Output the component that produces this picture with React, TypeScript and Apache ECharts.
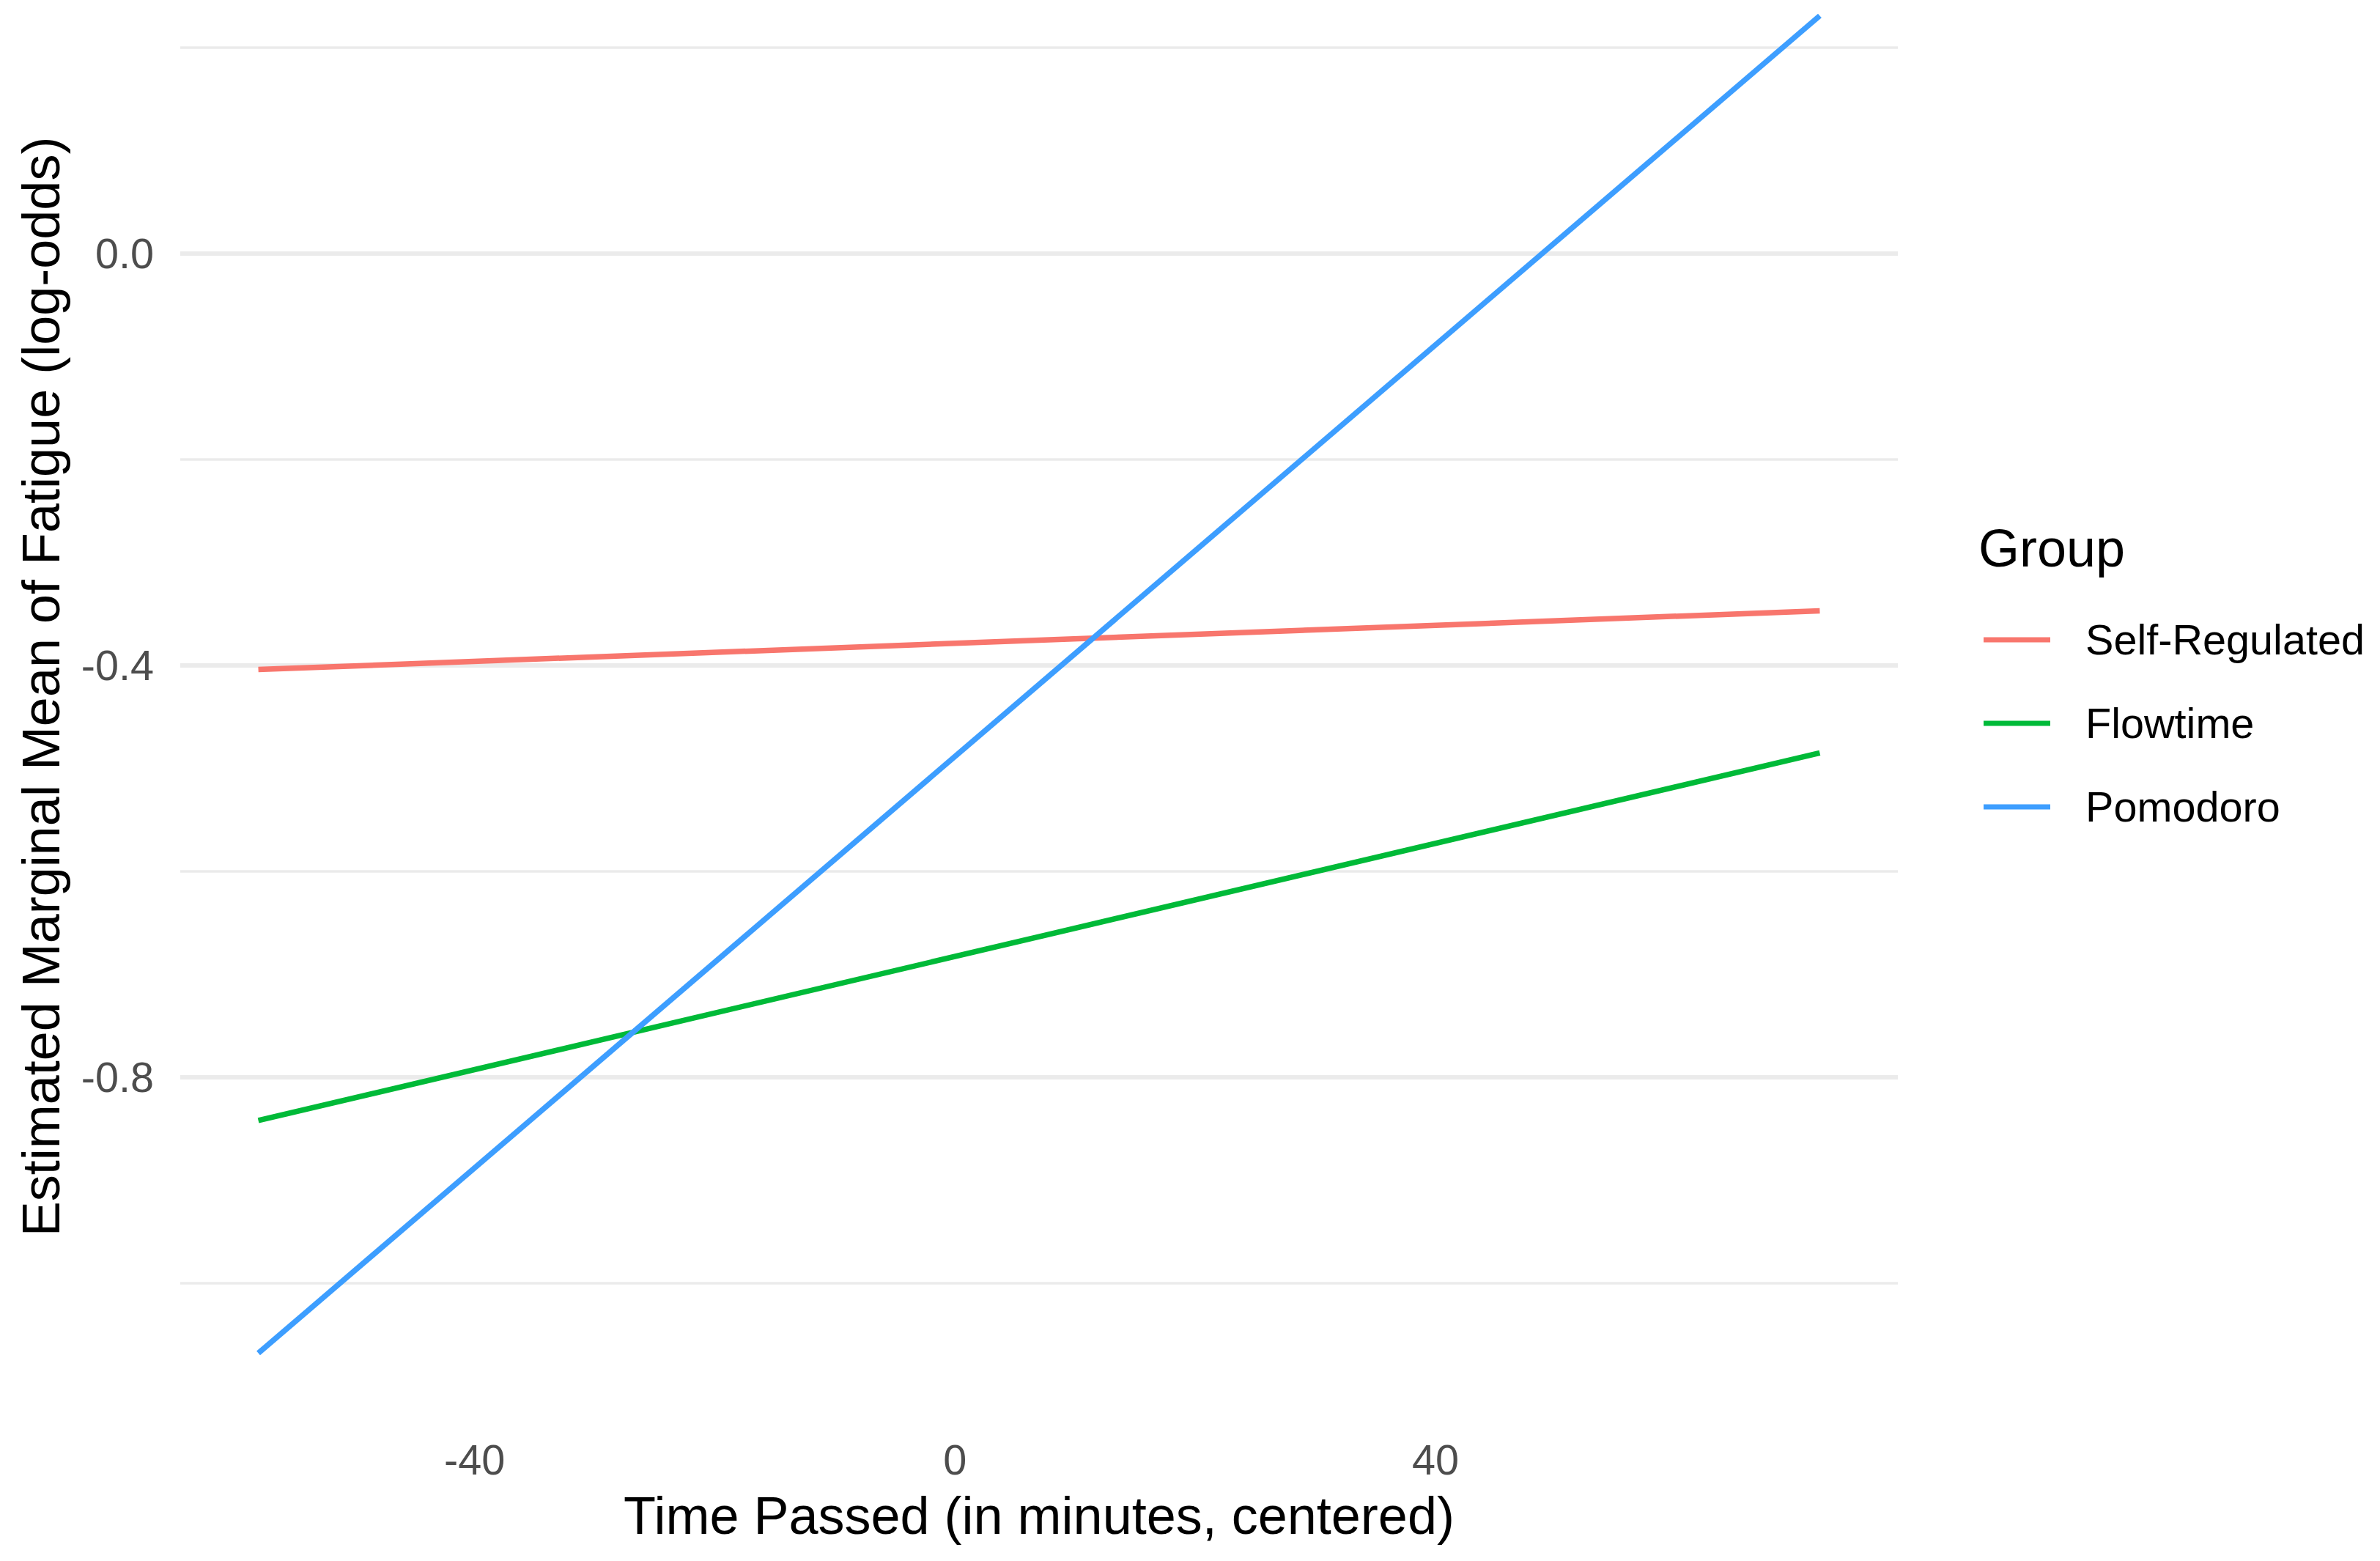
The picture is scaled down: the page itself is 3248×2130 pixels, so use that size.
import React, { useEffect, useRef } from "react";
import * as echarts from "echarts";

// ---- data ----
const timeX = [-58, 72];
const selfRegulated = [-0.404, -0.347];
const flowtime = [-0.842, -0.485];
const pomodoro = [-1.068, 0.231];
const groupNames = ["Self-Regulated", "Flowtime", "Pomodoro"];
const groupValues = [selfRegulated, flowtime, pomodoro];
const groupColors = ["#F8766D", "#00BA38", "#3D9EFF"];
const xTickLabels = [-40, 0, 40];
const yMajorTicks = [-0.8, -0.4, 0.0];
const yMinorTicks = [-1.0, -0.6, -0.2, 0.2];
const xRange = [-64.5, 78.5];
const yRange = [-1.1325, 0.2463];

const FONT = "'Liberation Sans', Arial, Helvetica, sans-serif";

export default function App() {
  const ref = useRef<HTMLDivElement>(null);

  useEffect(() => {
    if (!ref.current) return;
    const chart = echarts.init(ref.current, null, { renderer: "svg" });
    const option: any = {
      animation: false,
      backgroundColor: "#FFFFFF",
      textStyle: { fontFamily: FONT },
      grid: { left: 246, right: 658, top: 0, bottom: 193, containLabel: false },
      legend: {
        orient: "vertical",
        left: 2702,
        top: 838,
        itemWidth: 91,
        itemHeight: 7,
        itemGap: 54,
        icon: "rect",
        data: groupNames,
        textStyle: {
          fontSize: 57.6,
          color: "#000000",
          fontFamily: FONT,
          lineHeight: 60,
          padding: [0, 0, 0, 43],
        },
      },
      graphic: [
        {
          type: "text",
          x: 2700,
          y: 748,
          style: {
            text: "Group",
            fontSize: 72,
            fontFamily: FONT,
            fill: "#000000",
            verticalAlign: "middle",
            align: "left",
          },
        },
        {
          type: "text",
          x: 56,
          y: 937,
          rotation: Math.PI / 2,
          style: {
            text: "Estimated Marginal Mean of Fatigue (log-odds)",
            fontSize: 72,
            fontFamily: FONT,
            fill: "#000000",
            verticalAlign: "middle",
            align: "center",
          },
        },
      ],
      xAxis: {
        type: "value",
        min: xRange[0],
        max: xRange[1],
        name: "Time Passed (in minutes, centered)",
        nameLocation: "middle",
        nameGap: 95,
        nameTextStyle: { fontSize: 72, color: "#000000", fontFamily: FONT },
        axisLine: { show: false },
        axisTick: { show: false, customValues: xTickLabels },
        splitLine: { show: false },
        axisLabel: {
          customValues: xTickLabels,
          fontSize: 57.6,
          color: "#4D4D4D",
          fontFamily: FONT,
          margin: 26,
          formatter: (v: number) => String(v),
        },
      },
      yAxis: [
        {
          type: "value",
          min: yRange[0],
          max: yRange[1],
          axisLine: { show: false },
          axisTick: { show: false, customValues: yMajorTicks },
          axisLabel: {
            customValues: yMajorTicks,
            fontSize: 57.6,
            color: "#4D4D4D",
            fontFamily: FONT,
            margin: 36,
            formatter: (v: number) => v.toFixed(1),
          },
          splitLine: { show: true, lineStyle: { color: "#EBEBEB", width: 6 } },
        },
        {
          type: "value",
          min: yRange[0],
          max: yRange[1],
          position: "left",
          axisLine: { show: false },
          axisTick: { show: false, customValues: yMinorTicks },
          axisLabel: { show: false },
          splitLine: { show: true, lineStyle: { color: "#EBEBEB", width: 3.5 } },
        },
      ],
      series: groupNames.map((name, i) => ({
        name,
        type: "line",
        yAxisIndex: 0,
        showSymbol: false,
        symbol: "none",
        color: groupColors[i],
        lineStyle: { color: groupColors[i], width: 7.5 },
        z: 3 + i,
        data: timeX.map((x, j) => [x, groupValues[i][j]]),
      })),
    };
    chart.setOption(option);
    return () => chart.dispose();
  }, []);

  return (
    <div
      ref={ref}
      style={{ position: "absolute", left: 0, top: 0, width: 3248, height: 2130 }}
    />
  );
}
